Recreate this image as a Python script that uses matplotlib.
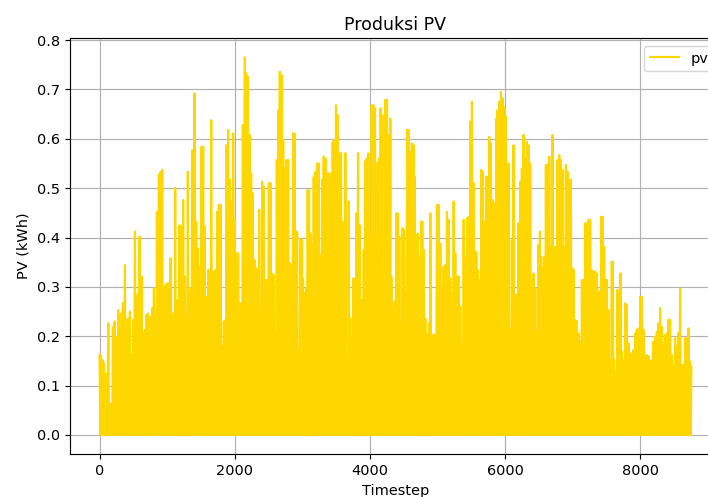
import matplotlib
matplotlib.use("Agg")
import matplotlib.pyplot as plt
import numpy as np

# Daily peak PV production (timestep, kWh)
peak_t = [0, 20, 44, 64, 89, 104, 128, 153, 177, 197, 222, 247, 276, 301, 320, 345, 375, 399, 424, 449,
          473, 498, 523, 547, 567, 592, 621, 646, 670, 695, 715, 735, 754, 779, 804, 823, 848, 878, 902, 927,
          951, 976, 1001, 1025, 1050, 1075, 1094, 1119, 1144, 1163, 1183, 1208, 1237, 1262, 1282, 1306, 1331, 1351, 1371,
          1405, 1430, 1454, 1479, 1509, 1533, 1553, 1568, 1592, 1607, 1632, 1652, 1676, 1691, 1716, 1740, 1765, 1790,
          1814, 1839, 1864, 1878, 1903, 1928, 1952, 1977, 2002, 2026, 2051, 2076, 2100, 2120, 2150, 2169, 2194, 2219,
          2243, 2268, 2293, 2317, 2342, 2362, 2381, 2406, 2431, 2455, 2480, 2505, 2529, 2554, 2579, 2603, 2623, 2643,
          2667, 2692, 2717, 2741, 2766, 2791, 2815, 2840, 2864, 2884,
          2898, 2923, 2947, 2972, 2997, 3011, 3036, 3056, 3080, 3100, 3120, 3135, 3149, 3169, 3194, 3218, 3243, 3268,
          3292, 3317, 3342, 3361, 3386, 3411, 3425, 3450, 3475, 3499, 3524, 3549, 3573, 3598, 3623, 3637, 3662, 3687,
          3711, 3731, 3756, 3780, 3800, 3825, 3849, 3869, 3889, 3909, 3928, 3953, 3978, 4002, 4027, 4052, 4076, 4096,
          4116, 4135, 4160, 4185, 4209, 4229, 4254, 4278,
          4303, 4318, 4342, 4367, 4392, 4416, 4436, 4461, 4485, 4505, 4525, 4550, 4574, 4599, 4623, 4648, 4663, 4688,
          4712, 4737, 4757, 4776, 4796, 4821, 4845, 4860, 4880, 4895, 4919, 4944, 4969, 4993, 5018, 5043, 5067, 5092,
          5116, 5141, 5166, 5190, 5215, 5240, 5264, 5289, 5314, 5338, 5363, 5388, 5412, 5437, 5462, 5486, 5511, 5536,
          5560, 5575, 5600, 5624, 5649, 5674, 5698, 5723, 5747, 5767, 5792, 5816, 5841,
          5871, 5890, 5915, 5940, 5964, 5989, 6014, 6029, 6053, 6078, 6102, 6127, 6152, 6176, 6201, 6226, 6250, 6275,
          6300, 6324, 6349, 6374, 6398, 6423, 6448, 6472, 6497, 6517, 6536, 6561, 6586, 6605, 6630, 6655, 6679, 6704,
          6729, 6753, 6778, 6803, 6827, 6852, 6877, 6901, 6926, 6950, 6975, 6995, 7015, 7039, 7064, 7089, 7103, 7118,
          7138, 7162, 7187, 7212, 7236, 7261, 7286, 7310,
          7335, 7360, 7384, 7409, 7424, 7443, 7468, 7493, 7508, 7532, 7557, 7581, 7596, 7616, 7641, 7665, 7690, 7710,
          7729, 7754, 7779, 7803, 7828, 7853, 7877, 7902, 7927, 7951, 7976, 8001, 8025, 8050, 8074, 8099, 8124, 8148,
          8173, 8198, 8222, 8247, 8272, 8296, 8321, 8346, 8370, 8395, 8420, 8444, 8469, 8494, 8518, 8543, 8568, 8592,
          8617, 8642, 8666, 8691, 8715, 8740, 8759]

peak_v = [0.162, 0.160, 0.152, 0.145, 0.051, 0.125, 0.226, 0.014, 0.064, 0.219, 0.230, 0.199, 0.253, 0.243, 0.246,
          0.267, 0.344, 0.233, 0.236, 0.250, 0.162, 0.233, 0.412, 0.280, 0.287, 0.402, 0.321, 0.206, 0.213, 0.243,
          0.246, 0.145, 0.240, 0.257, 0.297, 0.240, 0.452, 0.527, 0.533, 0.537, 0.294, 0.304, 0.307, 0.307, 0.358,
          0.246, 0.162, 0.500, 0.273, 0.273, 0.425, 0.422, 0.476, 0.321, 0.240, 0.533, 0.290, 0.297, 0.577,
          0.692, 0.432, 0.378, 0.341, 0.584, 0.584, 0.422, 0.277, 0.280, 0.334, 0.334, 0.638, 0.132, 0.331, 0.334,
          0.452, 0.466, 0.466, 0.179, 0.230, 0.233, 0.587, 0.618, 0.517, 0.473, 0.611, 0.436, 0.368, 0.368, 0.267,
          0.267, 0.628, 0.765, 0.733, 0.726, 0.608, 0.530, 0.490, 0.354, 0.338, 0.334, 0.456, 0.253, 0.513, 0.503,
          0.314, 0.314, 0.510, 0.510, 0.327, 0.324, 0.206, 0.557, 0.658, 0.736, 0.729, 0.598, 0.540, 0.557, 0.557,
          0.348, 0.344, 0.611, 0.611,
          0.412, 0.412, 0.169, 0.398, 0.395, 0.317, 0.287, 0.297, 0.496, 0.496, 0.408, 0.388, 0.348, 0.523, 0.533,
          0.550, 0.550, 0.365, 0.517, 0.564, 0.560, 0.459, 0.530, 0.530, 0.429, 0.594, 0.598, 0.668, 0.648, 0.571,
          0.571, 0.432, 0.432, 0.571, 0.128, 0.473, 0.236, 0.199, 0.317, 0.317, 0.449, 0.571, 0.425, 0.273, 0.273,
          0.375, 0.554, 0.560, 0.571, 0.402, 0.668, 0.668, 0.662, 0.550, 0.550, 0.560, 0.662, 0.648, 0.203, 0.679,
          0.679, 0.608,
          0.641, 0.321, 0.250, 0.270, 0.449, 0.449, 0.402, 0.223, 0.419, 0.415, 0.290, 0.618, 0.618, 0.574, 0.591,
          0.587, 0.523, 0.405, 0.408, 0.361, 0.432, 0.432, 0.375, 0.236, 0.206, 0.196, 0.226, 0.449, 0.203, 0.203,
          0.203, 0.466, 0.466, 0.388, 0.300, 0.341, 0.344, 0.452, 0.436, 0.317, 0.287, 0.473, 0.368, 0.321, 0.321,
          0.260, 0.186, 0.436, 0.361, 0.439, 0.442, 0.635, 0.675, 0.510, 0.287, 0.371, 0.334, 0.314, 0.537, 0.533,
          0.432, 0.523, 0.523, 0.604, 0.591, 0.476, 0.469,
          0.641, 0.658, 0.675, 0.695, 0.682, 0.665, 0.645, 0.459, 0.550, 0.213, 0.395, 0.587, 0.284, 0.284, 0.429,
          0.513, 0.540, 0.608, 0.560, 0.594, 0.587, 0.550, 0.297, 0.327, 0.297, 0.209, 0.385, 0.412, 0.361, 0.338,
          0.361, 0.547, 0.547, 0.564, 0.381, 0.608, 0.381, 0.381, 0.557, 0.567, 0.557, 0.537, 0.381, 0.547, 0.533,
          0.517, 0.517, 0.338, 0.334, 0.233, 0.230, 0.206, 0.189, 0.088, 0.314, 0.314, 0.429, 0.429, 0.436, 0.436,
          0.334, 0.331,
          0.331, 0.327, 0.290, 0.290, 0.442, 0.442, 0.381, 0.314, 0.314, 0.253, 0.152, 0.351, 0.351, 0.152, 0.128,
          0.294, 0.290, 0.327, 0.169, 0.152, 0.267, 0.263, 0.186, 0.165, 0.162, 0.172, 0.206, 0.213, 0.216, 0.280,
          0.280, 0.213, 0.159, 0.162, 0.159, 0.149, 0.152, 0.189, 0.199, 0.209, 0.226, 0.257, 0.219, 0.186, 0.203,
          0.206, 0.233, 0.233, 0.162, 0.142, 0.196, 0.179, 0.206, 0.297, 0.142, 0.142, 0.196, 0.196, 0.216, 0.149,
          0.138]

night_value = 0.0

# Build the series: each daily peak separated by a night-time zero
pt = np.asarray(peak_t, dtype=float)
pv = np.asarray(peak_v, dtype=float)
mid_t = (pt[:-1] + pt[1:]) / 2.0
ts = np.empty(len(pt) + len(mid_t))
vals = np.empty_like(ts)
ts[0::2] = pt
ts[1::2] = mid_t
vals[0::2] = pv
vals[1::2] = night_value

DPI = 104
fig = plt.figure(figsize=(708 / DPI, 497 / DPI), dpi=DPI)
ax = fig.add_axes([70 / 708, (497 - 453.8) / 497, (721 - 70) / 708, (453.8 - 38.5) / 497])
ax.plot(ts, vals, color="#FFD700", linewidth=1.5, label="pv")
ax.set_title("Produksi PV")
ax.set_xlabel("Timestep")
ax.set_ylabel("PV (kWh)")
ax.grid(True)
ax.legend(loc="upper right")
fig.savefig("out.png", dpi=DPI)
